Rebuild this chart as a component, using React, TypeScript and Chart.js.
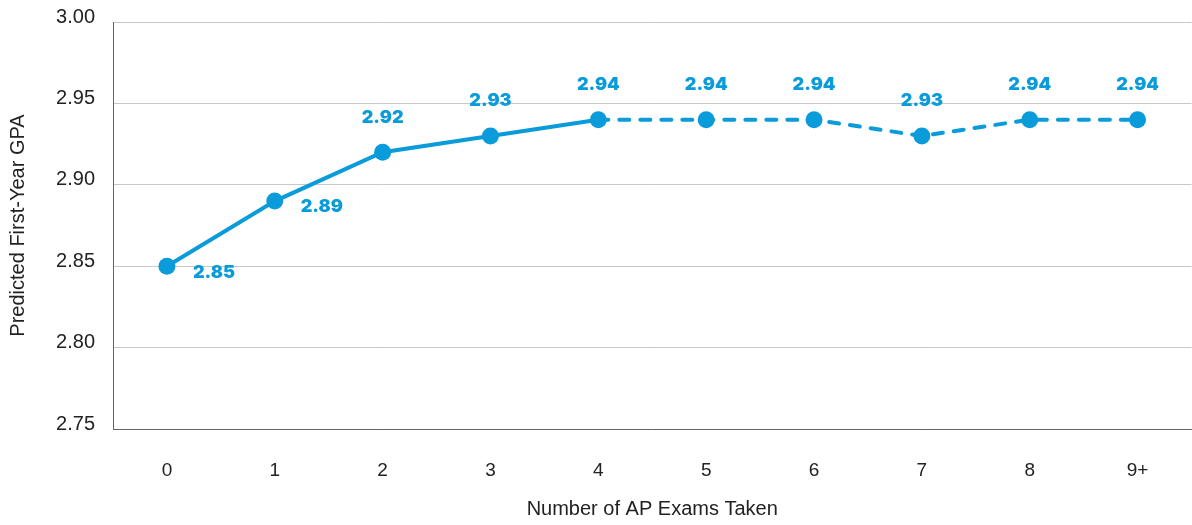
import React, { useEffect, useRef } from "react";
import { Chart, registerables } from "chart.js";

Chart.register(...registerables);

const categories = ["0", "1", "2", "3", "4", "5", "6", "7", "8", "9+"];
const gpaValues = [2.85, 2.89, 2.92, 2.93, 2.94, 2.94, 2.94, 2.93, 2.94, 2.94];
const yTicks = [2.75, 2.8, 2.85, 2.9, 2.95, 3.0];
const dashedFrom = 4;

const BLUE = "#0A9BDA";
const FONT = "'Liberation Sans', Arial, sans-serif";

const labelPlugin = {
  id: "pointLabels",
  afterDatasetsDraw(chart: any) {
    const ctx = chart.ctx;
    const meta = chart.getDatasetMeta(0);
    ctx.save();
    ctx.fillStyle = BLUE;
    ctx.font = "900 18px Inter, 'Liberation Sans', sans-serif";
    ctx.textAlign = "center";
    ctx.textBaseline = "middle";
    meta.data.forEach((pt: any, i: number) => {
      const txt = gpaValues[i].toFixed(2);
      if (i < 2) {
        ctx.fillText(txt, pt.x + 47, pt.y + 6);
      } else {
        ctx.fillText(txt, pt.x, pt.y - 35);
      }
    });
    ctx.restore();
  },
};

export default function App() {
  const ref = useRef<HTMLCanvasElement>(null);
  useEffect(() => {
    document.body.style.margin = "0";
    const chart = new Chart(ref.current!, {
      type: "line",
      data: {
        labels: categories,
        datasets: [
          {
            data: gpaValues,
            borderColor: BLUE,
            backgroundColor: BLUE,
            borderWidth: 4,
            borderCapStyle: "round",
            pointRadius: 8.5,
            pointHoverRadius: 8.5,
            pointBorderWidth: 0,
            pointBackgroundColor: BLUE,
            tension: 0,
            segment: {
              borderDash: (c: any) => (c.p0DataIndex >= dashedFrom ? [10, 11] : undefined),
            },
          },
        ],
      },
      options: {
        animation: false,
        responsive: false,
        layout: { padding: { left: 0, right: 0, top: 22, bottom: 0 } },
        plugins: { legend: { display: false }, tooltip: { enabled: false } },
        scales: {
          x: {
            offset: true,
            grid: { display: false, drawTicks: false },
            border: { display: true, color: "#666", width: 1 },
            ticks: { color: "#222", font: { size: 19, family: FONT }, padding: 30 },
            title: {
              display: true,
              text: "Number of AP Exams Taken",
              color: "#222",
              font: { size: 20, family: FONT },
              padding: { top: 10, bottom: 4 },
            },
            afterFit: (s: any) => {
              s.height = 96;
              s.paddingLeft = 0;
              s.paddingRight = 0;
            },
          },
          y: {
            min: 2.75,
            max: 3.0,
            afterBuildTicks: (s: any) => {
              s.ticks = yTicks.map((v) => ({ value: v }));
            },
            grid: { color: "#C8C8C8", drawTicks: false, lineWidth: 1 },
            border: { display: true, color: "#666", width: 1 },
            ticks: {
              color: "#222",
              font: { size: 20, family: FONT },
              padding: 18,
              labelOffset: -5,
              callback: (v: any) => Number(v).toFixed(2),
            },
            title: {
              display: true,
              text: "Predicted First-Year GPA",
              color: "#222",
              font: { size: 20, family: FONT },
              padding: { top: 6, bottom: 0 },
            },
            afterFit: (s: any) => {
              s.width = 113;
              s.paddingTop = 0;
              s.paddingBottom = 0;
            },
          },
        },
      },
      plugins: [labelPlugin],
    });
    return () => chart.destroy();
  }, []);
  return (
    <div style={{ position: "absolute", left: 0, top: 0, width: 1192, height: 525, overflow: "hidden" }}>
      <canvas ref={ref} width={1200} height={525} />
    </div>
  );
}
